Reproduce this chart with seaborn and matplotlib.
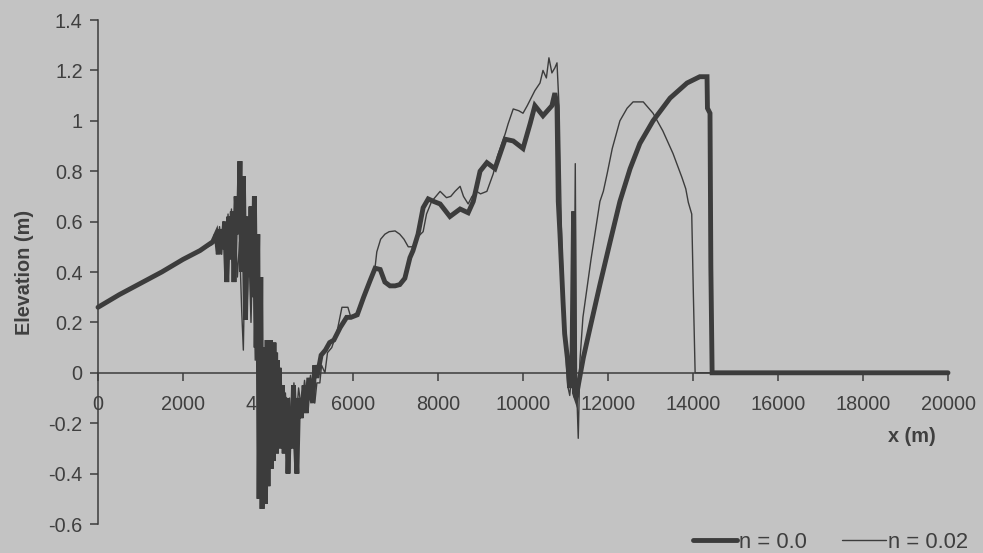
import matplotlib
matplotlib.use("Agg")
import matplotlib.pyplot as plt
import seaborn as sns
import pandas as pd

# ---- data -------------------------------------------------------------
# Water surface elevation along the channel, Manning n = 0.0
x_n00 = [0, 500, 1000, 1500, 2000, 2400, 2700,
         2780, 2830, 2880, 2930, 2980, 3030, 3080, 3120, 3160, 3200, 3250,
         3300, 3340, 3380, 3420, 3470, 3520, 3560, 3600, 3640, 3680, 3720,
         3760, 3790, 3830, 3860, 3900, 3940, 3980, 4000, 4020, 4040, 4060,
         4080, 4100, 4120, 4140, 4160, 4180, 4200, 4220, 4240, 4260, 4300,
         4340, 4380, 4430, 4470, 4520, 4560, 4600,
         4640, 4680, 4720, 4780, 4850, 4900, 4960, 5050, 5100, 5150, 5250,
         5350, 5450, 5550, 5700, 5850, 5950, 6100, 6250, 6400, 6520, 6640,
         6750, 6870, 6990, 7100, 7220, 7340, 7410, 7530, 7650, 7770, 7900,
         8050, 8280, 8520, 8710, 8830, 8990, 9150, 9340, 9580, 9770, 10000,
         10170, 10280, 10470, 10680, 10750, 10800, 10830, 10870, 10940,
         10980, 11050, 11100, 11150, 11190, 11210, 11250, 11300, 11420,
         11580, 11810, 12050, 12280, 12520, 12750, 13060, 13460, 13860,
         14160, 14330, 14340, 14400, 14420, 14450, 20000]
elev_n00 = [0.26, 0.31, 0.355, 0.40, 0.45, 0.485, 0.52,
            0.55, 0.47, 0.57, 0.49, 0.60, 0.36, 0.62, 0.45, 0.64, 0.36, 0.70,
            0.55, 0.84, 0.40, 0.78, 0.21, 0.62, 0.38, 0.66, 0.30, 0.70, 0.10,
            0.55, -0.50, 0.38, -0.54, 0.10, -0.52, 0.13, -0.45, 0.12, -0.30, 0.13,
            -0.38, 0.10, -0.35, 0.12, -0.28, 0.08, -0.32, 0.05, -0.25, 0.02, -0.30,
            -0.05, -0.32, -0.10, -0.40, -0.15, -0.30, -0.05,
            -0.25, -0.40, -0.10, -0.18, -0.05, -0.16, -0.02, -0.12, 0.03, -0.02, 0.07,
            0.09, 0.12, 0.13, 0.18, 0.22, 0.22, 0.23, 0.30, 0.365, 0.415, 0.41,
            0.36, 0.345, 0.345, 0.35, 0.375, 0.457, 0.484, 0.55, 0.655, 0.69, 0.68,
            0.67, 0.62, 0.65, 0.635, 0.68, 0.80, 0.834, 0.81, 0.927, 0.92, 0.89,
            0.99, 1.06, 1.02, 1.06, 1.11, 1.06, 0.68, 0.55, 0.29,
            0.155, 0.05, -0.06, 0.00, 0.64, -0.08, -0.10, -0.05, 0.06,
            0.18, 0.35, 0.52, 0.68, 0.81, 0.91, 1.00, 1.09, 1.15,
            1.175, 1.175, 1.05, 1.03, 0.42, 0.00, 0.00]

# Water surface elevation along the channel, Manning n = 0.02
x_n002 = [0, 500, 1000, 1500, 2000, 2400, 2700, 2760, 2810, 2860, 2910, 2960,
          3010, 3060, 3100, 3140, 3180, 3230, 3280, 3330, 3380, 3420, 3450,
          3500, 3550, 3600, 3650, 3700, 3750, 3800, 3850, 3890, 3930, 3970,
          4010, 4060, 4110, 4160, 4210, 4260, 4310, 4360, 4410, 4460, 4510,
          4560, 4610, 4660, 4720, 4790, 4860, 4930, 5000, 5060, 5100, 5150,
          5220, 5260, 5340, 5400, 5500, 5620, 5740, 5880, 5950, 6100, 6250,
          6400, 6520, 6560, 6650, 6750, 6850, 6990, 7100, 7200, 7300, 7410,
          7530, 7650, 7730, 7850, 8050, 8200, 8300, 8400, 8520, 8600, 8710,
          8800, 8910, 9000, 9150, 9300, 9400, 9580, 9650, 9770, 9900, 10000,
          10100, 10280, 10400, 10470, 10550, 10610, 10680, 10750, 10800,
          10850, 10900, 10950, 11000, 11050, 11100, 11150, 11200, 11230,
          11260, 11300, 11340, 11410, 11600, 11810, 11890, 11980, 12100,
          12280, 12450, 12590, 12830, 13060, 13290, 13530, 13740, 13830,
          13890, 13970, 14010, 14050, 20000]
elev_n002 = [0.26, 0.31, 0.355, 0.40, 0.45, 0.485, 0.51, 0.55, 0.48, 0.58, 0.47, 0.60,
             0.44, 0.63, 0.46, 0.65, 0.42, 0.58, 0.38, 0.52, 0.25, 0.09, 0.40,
             0.22, 0.50, 0.20, 0.55, 0.05, 0.45, -0.30, 0.25, -0.45, 0.05, -0.35,
             0.10, -0.25, 0.08, -0.28, 0.02, -0.20, -0.02, -0.28, -0.08, -0.30, -0.10,
             -0.22, -0.04, -0.20, -0.06, -0.15, -0.03, -0.13, -0.01, -0.10, -0.12, -0.04,
             -0.04, 0.03, 0.00, 0.08, 0.10, 0.16, 0.26, 0.26, 0.22, 0.24, 0.30,
             0.37, 0.42, 0.48, 0.53, 0.55, 0.56, 0.563, 0.55, 0.53, 0.50, 0.50,
             0.54, 0.56, 0.63, 0.68, 0.72, 0.695, 0.70, 0.72, 0.74, 0.70, 0.67,
             0.70, 0.72, 0.71, 0.72, 0.79, 0.86, 0.948, 0.988, 1.047, 1.04, 1.03,
             1.06, 1.12, 1.15, 1.20, 1.17, 1.25, 1.19, 1.21, 1.23,
             1.05, 0.60, 0.30, 0.10, -0.05, -0.09, 0.00, 0.05, 0.83,
             -0.05, -0.26, 0.05, 0.22, 0.45, 0.68, 0.72, 0.79, 0.89,
             1.00, 1.05, 1.075, 1.075, 1.03, 0.96, 0.87, 0.775, 0.73,
             0.676, 0.63, 0.30, 0.00, 0.00]

x_ticks = [0, 2000, 4000, 6000, 8000, 10000, 12000, 14000, 16000, 18000, 20000]
y_ticks = [-0.6, -0.4, -0.2, 0, 0.2, 0.4, 0.6, 0.8, 1, 1.2, 1.4]
y_tick_labels = ["-0.6", "-0.4", "-0.2", "0", "0.2", "0.4", "0.6", "0.8", "1", "1.2", "1.4"]

# ---- style ------------------------------------------------------------
BG = "#c3c3c3"
INK = "#3c3c3c"
TXT = "#3f3f3f"

sns.set_style("ticks", {"axes.facecolor": BG, "figure.facecolor": BG})
plt.rcParams["font.family"] = ["Liberation Sans", "DejaVu Sans"]
plt.rcParams["axes.unicode_minus"] = False
FS = 14.3

df0 = pd.DataFrame({"x": x_n00, "elev": elev_n00})
df2 = pd.DataFrame({"x": x_n002, "elev": elev_n002})

fig = plt.figure(figsize=(9.83, 5.53), dpi=100, facecolor=BG)
ax = fig.add_axes([98 / 983, 1 - 524 / 553, 850 / 983, 504 / 553])
ax.set_facecolor(BG)

sns.lineplot(data=df0, x="x", y="elev", ax=ax, sort=False, estimator=None,
             color=INK, linewidth=3.5, label="n = 0.0", zorder=3,
             solid_joinstyle="miter", clip_on=False)
sns.lineplot(data=df2, x="x", y="elev", ax=ax, sort=False, estimator=None,
             color=INK, linewidth=1.0, label="n = 0.02", zorder=4)

ax.set_xlim(0, 20000)
ax.set_ylim(-0.6, 1.4)
ax.set_xticks(x_ticks)
ax.set_xticklabels([str(v) for v in x_ticks])
ax.set_yticks(y_ticks)
ax.set_yticklabels(y_tick_labels)

for side in ("top", "right"):
    ax.spines[side].set_visible(False)
ax.spines["bottom"].set_position(("data", 0))
for side in ("left", "bottom"):
    ax.spines[side].set_color(INK)
    ax.spines[side].set_linewidth(1.1)

ax.tick_params(axis="both", direction="out", length=6, width=1.1,
               color=INK, labelcolor=TXT, labelsize=FS)
ax.tick_params(axis="x", pad=10)
ax.tick_params(axis="y", pad=5)

ax.set_xlabel("x (m)", fontsize=FS, fontweight="bold", color=TXT, va="center", ha="center")
ax.xaxis.set_label_coords((912 - 98) / 850, (524 - 437) / 504)
ax.set_ylabel("Elevation (m)", fontsize=FS, fontweight="bold", color=TXT, va="center", ha="center")
ax.yaxis.set_label_coords((24 - 98) / 850, 0.5)

ax.legend(loc="center right", bbox_to_anchor=(968 / 983, 1 - 542 / 553),
          bbox_transform=fig.transFigure, ncol=2, frameon=False,
          handlelength=2.0, handletextpad=0.1, columnspacing=1.6,
          borderpad=0, borderaxespad=0, fontsize=15.8, labelcolor=TXT)

fig.savefig("out.png", dpi=100, facecolor=BG)
